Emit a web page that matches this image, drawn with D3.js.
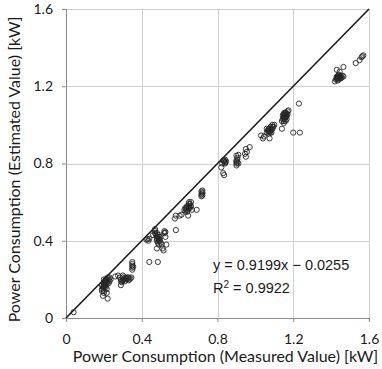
<!DOCTYPE html>
<html lang="en">
<head>
<meta charset="UTF-8">
<title>Measured vs Estimated Power Consumption</title>
<style>
  body { margin: 0; background: #fff; }
  svg { display: block; }
</style>
</head>
<body>
<div id="chart"></div>
<script src="https://cdnjs.cloudflare.com/ajax/libs/d3/7.8.5/d3.min.js"></script>
<script>
  // values (kW), one line per cluster
  var measuredKW = [
    0.04,
    0.19, 0.19, 0.195, 0.2, 0.2, 0.2, 0.205, 0.21, 0.21, 0.215, 0.22, 0.22, 0.225, 0.23, 0.23, 0.215, 0.2, 0.195, 0.215, 0.22, 0.19, 0.2, 0.21, 0.225, 0.235, 0.205, 0.2, 0.205, 0.21, 0.215, 0.2, 0.21,
    0.26, 0.275, 0.285, 0.29, 0.29, 0.29, 0.295, 0.3, 0.305, 0.31, 0.315, 0.32, 0.325, 0.33, 0.335, 0.34, 0.345, 0.31, 0.3, 0.35, 0.35, 0.35, 0.35, 0.35, 0.355, 0.3, 0.32, 0.33,
    0.425, 0.43, 0.435, 0.44, 0.44, 0.47, 0.47, 0.475, 0.48, 0.48, 0.48, 0.485, 0.485, 0.49, 0.49, 0.495, 0.495, 0.5, 0.505, 0.51, 0.515, 0.52, 0.52, 0.525, 0.525, 0.53, 0.46, 0.49, 0.48, 0.48, 0.485, 0.49, 0.495, 0.47, 0.52,
    0.58, 0.575, 0.58, 0.6, 0.61, 0.63, 0.63, 0.635, 0.64, 0.645, 0.645, 0.65, 0.65, 0.655, 0.66, 0.66, 0.665, 0.64, 0.625, 0.69, 0.715, 0.715, 0.72, 0.72, 0.72, 0.64, 0.645, 0.65, 0.655, 0.635, 0.72, 0.715,
    0.82, 0.825, 0.83, 0.835, 0.835, 0.84, 0.84, 0.845, 0.83, 0.9, 0.9, 0.9, 0.905, 0.905, 0.9, 0.91, 0.91, 0.95, 0.945, 0.955, 0.95, 0.97, 0.84, 0.835, 0.9, 0.905,
    1.03, 1.04, 1.045, 1.06, 1.065, 1.07, 1.07, 1.075, 1.08, 1.08, 1.085, 1.09, 1.09, 1.095, 1.075, 1.06, 1.1, 1.07, 1.075, 1.08, 1.085, 1.08, 1.07, 1.09,
    1.14, 1.14, 1.145, 1.15, 1.15, 1.155, 1.155, 1.16, 1.16, 1.165, 1.17, 1.17, 1.175, 1.145, 1.15, 1.16, 1.2, 1.235, 1.23, 1.15, 1.155, 1.16, 1.165, 1.15, 1.16, 1.155, 1.165,
    1.42, 1.425, 1.43, 1.43, 1.435, 1.44, 1.44, 1.445, 1.45, 1.455, 1.46, 1.465, 1.43, 1.445, 1.465, 1.53, 1.55, 1.56, 1.57, 1.565, 1.43, 1.435, 1.44, 1.445, 1.45, 1.44, 1.435, 1.45
  ]
  var estimatedKW = [
    0.03,
    0.15, 0.17, 0.16, 0.14, 0.18, 0.16, 0.19, 0.17, 0.2, 0.18, 0.19, 0.21, 0.2, 0.19, 0.21, 0.15, 0.13, 0.115, 0.13, 0.1, 0.14, 0.2, 0.185, 0.18, 0.2, 0.165, 0.17, 0.175, 0.19, 0.2, 0.185, 0.16,
    0.215, 0.22, 0.21, 0.2, 0.19, 0.17, 0.185, 0.21, 0.2, 0.19, 0.21, 0.2, 0.21, 0.195, 0.2, 0.205, 0.21, 0.2, 0.22, 0.25, 0.26, 0.27, 0.28, 0.29, 0.265, 0.195, 0.205, 0.21,
    0.405, 0.41, 0.4, 0.41, 0.29, 0.44, 0.46, 0.43, 0.42, 0.4, 0.36, 0.39, 0.29, 0.41, 0.43, 0.4, 0.42, 0.39, 0.38, 0.36, 0.35, 0.44, 0.45, 0.445, 0.42, 0.38, 0.43, 0.38, 0.44, 0.41, 0.42, 0.4, 0.41, 0.45, 0.44,
    0.455, 0.515, 0.53, 0.53, 0.535, 0.55, 0.57, 0.56, 0.58, 0.57, 0.53, 0.6, 0.59, 0.57, 0.6, 0.58, 0.56, 0.55, 0.56, 0.56, 0.63, 0.64, 0.65, 0.66, 0.645, 0.56, 0.58, 0.57, 0.59, 0.57, 0.635, 0.655,
    0.78, 0.8, 0.75, 0.74, 0.81, 0.8, 0.82, 0.81, 0.815, 0.79, 0.8, 0.81, 0.82, 0.83, 0.84, 0.845, 0.8, 0.835, 0.85, 0.86, 0.875, 0.885, 0.805, 0.815, 0.815, 0.805,
    0.945, 0.93, 0.94, 0.96, 0.97, 0.955, 0.98, 0.965, 0.99, 0.97, 0.96, 0.98, 1.0, 0.99, 0.93, 0.98, 1.0, 0.97, 0.975, 0.98, 0.975, 0.96, 0.965, 0.99,
    0.98, 1.02, 1.03, 1.01, 1.04, 1.05, 1.03, 1.06, 1.02, 1.045, 1.055, 1.07, 1.075, 1.05, 1.06, 1.04, 0.96, 0.96, 1.11, 1.02, 1.04, 1.05, 1.03, 1.045, 1.065, 1.06, 1.055,
    1.225, 1.235, 1.24, 1.25, 1.23, 1.245, 1.255, 1.24, 1.25, 1.245, 1.255, 1.25, 1.285, 1.275, 1.3, 1.32, 1.335, 1.35, 1.36, 1.355, 1.245, 1.25, 1.235, 1.25, 1.24, 1.26, 1.24, 1.255
  ]
  var tickValues = [0, 0.4, 0.8, 1.2, 1.6]
  var tickLabels = ['0', '0.4', '0.8', '1.2', '1.6']
  var equationLines = ['y = 0.9199x \u2212 0.0255', 'R', '2', ' = 0.9922']

  var width = 382, height = 369
  var margin = { top: 9, right: 13, bottom: 51, left: 66 }
  var plotW = width - margin.left - margin.right,
      plotH = height - margin.top - margin.bottom

  var x = d3.scaleLinear().domain([0, 1.6]).range([0, plotW])
  var y = d3.scaleLinear().domain([0, 1.6]).range([plotH, 0])

  var svg = d3.select('#chart').append('svg')
      .attr('width', width)
      .attr('height', height)

  var g = svg.append('g')
      .attr('transform', 'translate(' + margin.left + ',' + margin.top + ')')

  // grid
  g.append('g').selectAll('line')
      .data(tickValues.slice(1))
    .enter().append('line')
      .attr('x1', function(d) { return Math.round(x(d)) + 0.5 })
      .attr('x2', function(d) { return Math.round(x(d)) + 0.5 })
      .attr('y1', 0)
      .attr('y2', plotH)
      .attr('stroke', '#d0d0d0')

  g.append('g').selectAll('line')
      .data(tickValues.slice(1))
    .enter().append('line')
      .attr('y1', function(d) { return Math.round(y(d)) + 0.5 })
      .attr('y2', function(d) { return Math.round(y(d)) + 0.5 })
      .attr('x1', 0)
      .attr('x2', plotW)
      .attr('stroke', '#d0d0d0')

  // axes
  var xAxis = g.append('g')
      .attr('transform', 'translate(0,' + plotH + ')')
      .call(d3.axisBottom(x).tickValues(tickValues).tickFormat(function(d, i) { return tickLabels[i] }).tickSize(4).tickPadding(12))
  var yAxis = g.append('g')
      .call(d3.axisLeft(y).tickValues(tickValues).tickFormat(function(d, i) { return tickLabels[i] }).tickSize(4).tickPadding(9))

  ;[xAxis, yAxis].forEach(function(a) {
    a.select('.domain').attr('stroke', '#8c8c8c')
    a.selectAll('.tick line').attr('stroke', '#8c8c8c')
    a.selectAll('.tick text')
        .attr('fill', '#1a1a1a')
        .style('font-family', 'Lato, "Open Sans", sans-serif')
        .style('font-size', '14px')
  })

  // 1:1 line
  g.append('line')
      .attr('x1', x(0)).attr('y1', y(0))
      .attr('x2', x(1.6)).attr('y2', y(1.6))
      .attr('stroke', '#1a1a1a')
      .attr('stroke-width', 1.6)

  // points
  g.append('g').selectAll('circle')
      .data(measuredKW.map(function(v, i) { return [v, estimatedKW[i]] }))
    .enter().append('circle')
      .attr('cx', function(d) { return x(d[0]) })
      .attr('cy', function(d) { return y(d[1]) })
      .attr('r', 2.6)
      .attr('fill', 'none')
      .attr('stroke', '#262626')
      .attr('stroke-width', 0.9)

  // regression text
  var eq = g.append('g')
      .style('font-family', '"Liberation Sans", Arial, sans-serif')
      .style('font-size', '14.5px')
      .attr('fill', '#1a1a1a')
  eq.append('text')
      .attr('x', 147).attr('y', 261)
      .text(equationLines[0])
  var r2 = eq.append('text').attr('x', 147).attr('y', 284)
  r2.append('tspan').text(equationLines[1])
  r2.append('tspan').attr('dy', -5).style('font-size', '10px').text(equationLines[2])
  r2.append('tspan').attr('dy', 5).text(equationLines[3])

  // axis titles
  svg.append('text')
      .attr('x', margin.left + plotW / 2 + 8)
      .attr('y', 362)
      .attr('text-anchor', 'middle')
      .style('font-family', 'Lato, "Open Sans", sans-serif')
      .style('font-size', '16px')
      .attr('fill', '#1a1a1a')
      .text('Power Consumption (Measured Value) [kW]')

  svg.append('text')
      .attr('transform', 'translate(20,' + (margin.top + plotH / 2 + 6) + ') rotate(-90)')
      .attr('text-anchor', 'middle')
      .style('font-family', 'Lato, "Open Sans", sans-serif')
      .style('font-size', '16px')
      .attr('fill', '#1a1a1a')
      .text('Power Consumption (Estimated Value) [kW]')
</script>
</body>
</html>
